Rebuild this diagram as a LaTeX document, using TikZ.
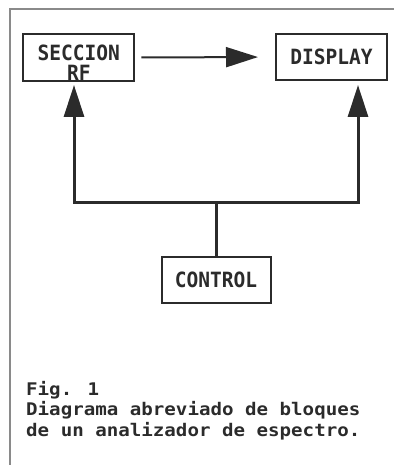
\documentclass[tikz,border=0pt]{standalone}
\usepackage{fontspec}
\usepackage{xcolor}
\usetikzlibrary{arrows.meta}
\newfontfamily\plotfont[FakeStretch=0.93]{DejaVu Sans Mono}
\newfontfamily\capfont[FakeStretch=1.1]{DejaVu Sans Mono}
\definecolor{ink}{HTML}{2B2B2B}
\definecolor{framegray}{HTML}{8A8A8A}
\tikzset{
blk/.style={draw=ink,line width=2pt,inner sep=0pt,text=ink,align=center,
  minimum width=111pt,minimum height=46pt,
  font=\plotfont\bfseries\fontsize{21}{20}\selectfont},
bus/.style={draw=ink,line width=3pt},
}
\begin{document}
\begin{tikzpicture}[x=1pt,y=-1pt,>={Triangle[length=32pt,width=20pt]}]
\useasboundingbox(0,0)rectangle(394,465);
\draw[framegray,line width=1.5pt](10,465)--(10,9)--(394,9);
\node[blk,minimum height=47pt](rf)at(78.8,57.5){\rule{0pt}{27pt}SECCION\\RF};
\node[blk](display)at(331.5,57){DISPLAY};
\node[blk,minimum width=109pt](control)at(216,280){CONTROL};
\coordinate(busL)at(74,202);
\coordinate(busR)at(358,202);
\draw[ink,line width=2pt,->,shorten <=6pt,shorten >=17pt](rf.east)--(display.west);
\draw[bus,->,shorten >=3pt](control.north)--(control.north|-busL)--(busL)--(rf.south-|busL);
\draw[bus,->,shorten >=4pt](control.north|-busR)--(busR)--(display.south-|busR);
% el ancla base cae en la ultima linea
\node[text=ink,font=\capfont\bfseries\fontsize{17.4}{20.5}\selectfont,align=left,anchor=base west,inner sep=0pt](caption)at(26,436){Fig. 1\\Diagrama abreviado de bloques\\de un analizador de espectro.};
\end{tikzpicture}
\end{document}
